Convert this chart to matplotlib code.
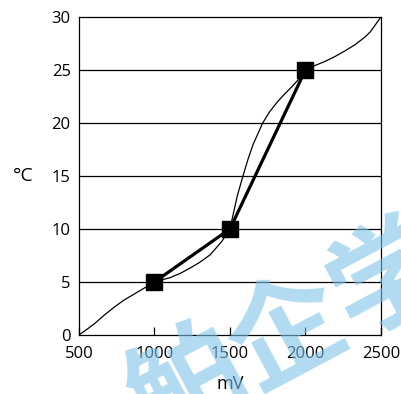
import matplotlib.pyplot as plt

# calibration points (thick line with squares)
pts_mv = [1000, 1500, 2000]
pts_c = [5, 10, 25]

# thin characteristic curve
curve_mv = [500, 560, 606, 670, 738, 800, 871, 948, 1000, 1050, 1103, 1170, 1235, 1300, 1368, 1445, 1500,
            1520, 1550, 1584, 1620, 1654, 1717, 1760, 1809, 1860, 1909, 1960, 2000, 2060, 2129, 2200, 2262,
            2330, 2394, 2430, 2460, 2500]
curve_c = [0, 0.6, 1.1, 1.9, 2.67, 3.3, 3.9, 4.55, 5, 5.2, 5.4, 5.8, 6.3, 6.85, 7.55, 8.8, 10,
           11.3, 13.2, 14.9, 16.6, 18.0, 20.0, 21.0, 21.9, 22.7, 23.4, 24.2, 25, 25.4, 25.8, 26.3, 26.8,
           27.4, 28.1, 28.6, 29.2, 30]

xticks = [500, 1000, 1500, 2000, 2500]
yticks = [0, 5, 10, 15, 20, 25, 30]

plt.rcParams['font.family'] = ['Open Sans', 'DejaVu Sans']

fig = plt.figure(figsize=(4.01, 3.94), dpi=100)
ax = fig.add_axes([0.197, 0.150, 0.753, 0.807])

for y in yticks[1:-1]:
    ax.axhline(y, color='black', lw=0.9, zorder=1)

ax.plot(curve_mv, curve_c, color='black', lw=0.9, zorder=2)
ax.plot(pts_mv, pts_c, color='black', lw=2.3, marker='s', markersize=12, zorder=3)

ax.set_xlim(500, 2500)
ax.set_ylim(0, 30)
ax.set_xticks(xticks)
ax.set_yticks(yticks)
ax.tick_params(axis='x', direction='in', length=6, width=0.9, pad=8, labelsize=12)
ax.tick_params(axis='y', length=0, pad=6, labelsize=12)
for s in ax.spines.values():
    s.set_linewidth(0.9)

ax.set_xlabel('mV', fontsize=13, labelpad=9)
ax.set_ylabel('°C', fontsize=14, rotation=0, va='center', ha='center')
ax.yaxis.set_label_coords(-0.185, 0.5)

# watermark
fig.text(0.72, 0.15, '鲌企学', color='#7ec3e8', alpha=0.6, fontsize=82,
         family=['Noto Sans CJK SC'], fontweight='bold', rotation=28,
         ha='center', va='center', zorder=10)

fig.savefig('out.png', dpi=100)
